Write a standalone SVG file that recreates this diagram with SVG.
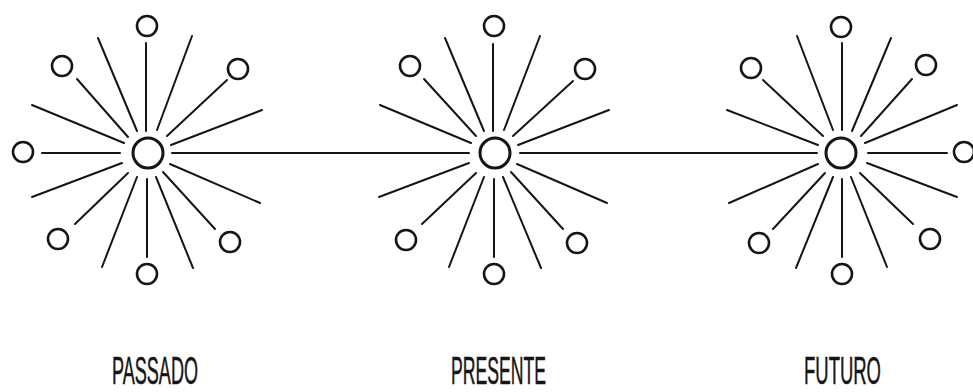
<svg xmlns="http://www.w3.org/2000/svg" width="973" height="392" viewBox="0 0 973 392">
<style>
.ray{stroke:#151515;stroke-width:2;stroke-linecap:round;fill:none}
.hub{fill:#fff;stroke:#151515;stroke-width:3}
.sat{fill:#fff;stroke:#151515;stroke-width:2.6}
.lbl{font-family:"Liberation Sans",Arial,sans-serif;font-size:38px;fill:#151515;stroke:#151515;stroke-width:0.5;text-anchor:start}
</style>
<rect width="973" height="392" fill="#fff"/>
<g id="connectors">
<line class="ray" x1="172" y1="153" x2="469" y2="153"/>
<line class="ray" x1="520" y1="153" x2="817" y2="153"/>
</g>
<g id="star-passado">
<line class="ray" x1="146" y1="131" x2="146" y2="43"/>
<line class="ray" x1="137" y1="131" x2="98" y2="38"/>
<line class="ray" x1="157" y1="130" x2="192" y2="36"/>
<line class="ray" x1="128" y1="137" x2="77" y2="79"/>
<line class="ray" x1="167" y1="136" x2="227" y2="80"/>
<line class="ray" x1="124" y1="143" x2="32" y2="105"/>
<line class="ray" x1="171" y1="145" x2="262" y2="110"/>
<line class="ray" x1="120" y1="153" x2="42" y2="153"/>
<line class="ray" x1="122" y1="163" x2="32" y2="197"/>
<line class="ray" x1="170" y1="164" x2="260" y2="203"/>
<line class="ray" x1="128" y1="173" x2="75" y2="224"/>
<line class="ray" x1="163" y1="172" x2="215" y2="229"/>
<line class="ray" x1="137" y1="177" x2="102" y2="267"/>
<line class="ray" x1="156" y1="177" x2="193" y2="268"/>
<line class="ray" x1="147" y1="179" x2="147" y2="257"/>
<circle class="hub" cx="148" cy="153" r="15"/>
<circle class="sat" cx="147" cy="26" r="10"/>
<circle class="sat" cx="62" cy="66" r="10"/>
<circle class="sat" cx="238" cy="69" r="10"/>
<circle class="sat" cx="23" cy="152" r="10"/>
<circle class="sat" cx="58" cy="239" r="10"/>
<circle class="sat" cx="147" cy="274" r="10"/>
<circle class="sat" cx="230" cy="242" r="10"/>
</g>
<g id="star-presente">
<line class="ray" x1="493" y1="131" x2="493" y2="44"/>
<line class="ray" x1="484" y1="131" x2="445" y2="38"/>
<line class="ray" x1="504" y1="130" x2="540" y2="36"/>
<line class="ray" x1="476" y1="136" x2="424" y2="79"/>
<line class="ray" x1="513" y1="136" x2="573" y2="81"/>
<line class="ray" x1="471" y1="143" x2="380" y2="105"/>
<line class="ray" x1="518" y1="145" x2="609" y2="110"/>
<line class="ray" x1="469" y1="163" x2="379" y2="197"/>
<line class="ray" x1="517" y1="164" x2="607" y2="203"/>
<line class="ray" x1="476" y1="173" x2="422" y2="224"/>
<line class="ray" x1="511" y1="172" x2="563" y2="229"/>
<line class="ray" x1="484" y1="177" x2="449" y2="267"/>
<line class="ray" x1="503" y1="177" x2="541" y2="268"/>
<line class="ray" x1="494" y1="179" x2="494" y2="257"/>
<circle class="hub" cx="495" cy="153" r="15"/>
<circle class="sat" cx="494" cy="26" r="10"/>
<circle class="sat" cx="410" cy="66" r="10"/>
<circle class="sat" cx="585" cy="69" r="10"/>
<circle class="sat" cx="406" cy="240" r="10"/>
<circle class="sat" cx="494" cy="274" r="10"/>
<circle class="sat" cx="577" cy="243" r="10"/>
</g>
<g id="star-futuro">
<line class="ray" x1="842" y1="130" x2="842" y2="43"/>
<line class="ray" x1="833" y1="130" x2="797" y2="36"/>
<line class="ray" x1="852" y1="131" x2="891" y2="38"/>
<line class="ray" x1="823" y1="136" x2="763" y2="80"/>
<line class="ray" x1="861" y1="136" x2="912" y2="79"/>
<line class="ray" x1="818" y1="145" x2="727" y2="110"/>
<line class="ray" x1="865" y1="143" x2="957" y2="105"/>
<line class="ray" x1="868" y1="153" x2="947" y2="153"/>
<line class="ray" x1="818" y1="164" x2="729" y2="203"/>
<line class="ray" x1="867" y1="163" x2="957" y2="197"/>
<line class="ray" x1="825" y1="173" x2="773" y2="229"/>
<line class="ray" x1="860" y1="173" x2="913" y2="224"/>
<line class="ray" x1="833" y1="177" x2="796" y2="268"/>
<line class="ray" x1="851" y1="177" x2="887" y2="267"/>
<line class="ray" x1="842" y1="179" x2="842" y2="257"/>
<circle class="hub" cx="841" cy="153" r="15"/>
<circle class="sat" cx="841" cy="27" r="10"/>
<circle class="sat" cx="751" cy="68" r="10"/>
<circle class="sat" cx="926" cy="65" r="10"/>
<circle class="sat" cx="964" cy="152" r="10"/>
<circle class="sat" cx="759" cy="243" r="10"/>
<circle class="sat" cx="842" cy="274" r="10"/>
<circle class="sat" cx="930" cy="239" r="10"/>
</g>
<g id="labels">
<text class="lbl" x="112" y="384" textLength="86" lengthAdjust="spacingAndGlyphs">PASSADO</text>
<text class="lbl" x="451" y="384" textLength="95" lengthAdjust="spacingAndGlyphs">PRESENTE</text>
<text class="lbl" x="804" y="384" textLength="77" lengthAdjust="spacingAndGlyphs">FUTURO</text>
</g>
</svg>
